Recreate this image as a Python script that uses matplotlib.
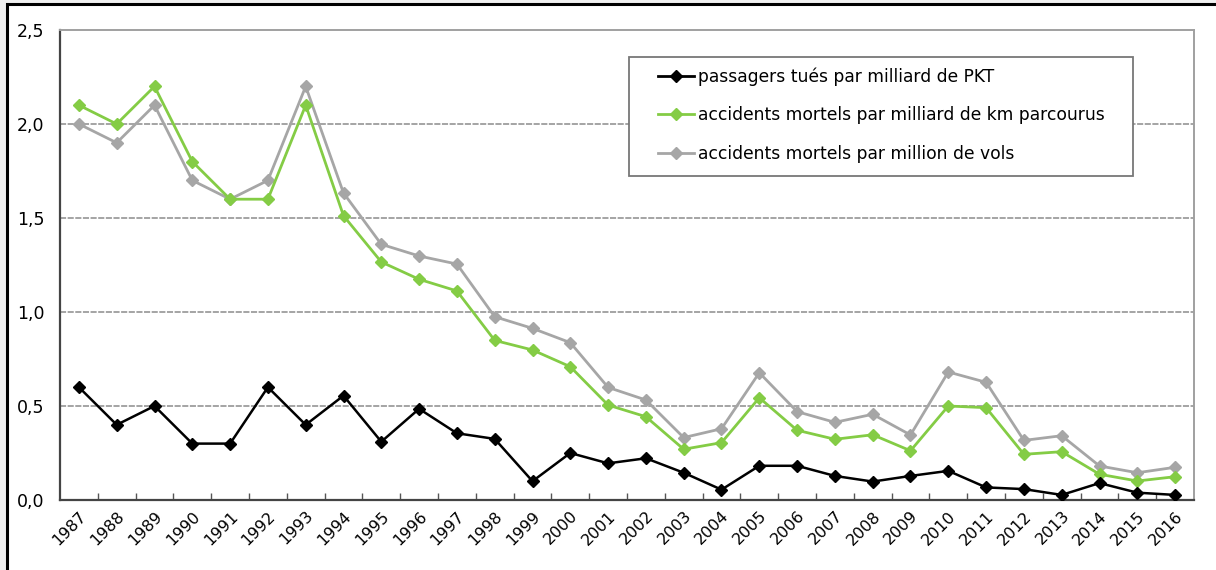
import matplotlib.pyplot as plt
from matplotlib.patches import Rectangle
from matplotlib.lines import Line2D

years = list(range(1987, 2017))

# passagers tués par milliard de PKT
pkt = [0.60, 0.40, 0.50, 0.30, 0.30, 0.60, 0.40, 0.555, 0.31, 0.485,
       0.355, 0.325, 0.10, 0.25, 0.195, 0.222, 0.145, 0.055, 0.182, 0.182,
       0.128, 0.098, 0.128, 0.155, 0.067, 0.058, 0.027, 0.09, 0.039, 0.027]

# accidents mortels par milliard de km parcourus
km = [2.10, 2.00, 2.20, 1.80, 1.60, 1.60, 2.10, 1.512, 1.266, 1.174,
      1.112, 0.849, 0.798, 0.709, 0.505, 0.443, 0.27, 0.305, 0.544, 0.371,
      0.323, 0.347, 0.262, 0.50, 0.491, 0.243, 0.257, 0.137, 0.101, 0.124]

# accidents mortels par million de vols
vols = [2.00, 1.90, 2.10, 1.70, 1.60, 1.70, 2.20, 1.633, 1.36, 1.298,
        1.255, 0.975, 0.913, 0.837, 0.599, 0.532, 0.332, 0.379, 0.677, 0.47,
        0.413, 0.456, 0.346, 0.681, 0.626, 0.317, 0.342, 0.181, 0.145, 0.174]

labels = ["passagers tués par milliard de PKT",
          "accidents mortels par milliard de km parcourus",
          "accidents mortels par million de vols"]
colors = ["#000000", "#84cc45", "#a6a6a6"]

plt.rcParams['font.family'] = ['DejaVu Sans']

W, H = 1216, 570
fig = plt.figure(figsize=(W / 100, H / 100), dpi=100)
fig.patch.set_facecolor('#f0f0f0')
# white frame with black border (only left/top visible)
fig.patches.append(Rectangle((7 / W, -0.05), 1.1, 1 - 4 / H + 0.05,
                             transform=fig.transFigure, facecolor='white',
                             edgecolor='black', linewidth=2.2, zorder=-5))

ax = fig.add_axes([60 / W, 1 - 500 / H, 1134 / W, 470 / H])
ax.set_facecolor('white')

x = list(range(len(years)))
ax.plot(x, vols, color=colors[2], lw=2, marker='D', ms=6.5, zorder=3)
ax.plot(x, km, color=colors[1], lw=2, marker='D', ms=6.5, zorder=4)
ax.plot(x, pkt, color=colors[0], lw=1.8, marker='D', ms=6.5, zorder=5)

ax.set_xlim(-0.5, len(years) - 0.5)
ax.set_ylim(0, 2.5)
ax.set_yticks([0, 0.5, 1.0, 1.5, 2.0, 2.5])
ax.set_yticklabels(["0,0", "0,5", "1,0", "1,5", "2,0", "2,5"], fontsize=12.5)
ax.tick_params(axis='y', length=0, pad=11)

for v in [0.5, 1.0, 1.5, 2.0]:
    ax.axhline(v, color='#8c8c8c', lw=1.1, ls=(0, (4, 1)), zorder=1)

ax.set_xticks([i + 0.5 for i in x[:-1]], minor=True)
ax.tick_params(axis='x', which='minor', direction='in', length=5, width=1, color='#555555')
ax.set_xticks(x)
ax.set_xticklabels([str(y) for y in years], rotation=45, ha='right',
                   rotation_mode='anchor', fontsize=11.5)
ax.tick_params(axis='x', which='major', length=0, pad=6)

for side in ['left', 'bottom']:
    ax.spines[side].set_color('#444444')
    ax.spines[side].set_linewidth(1.6)
for side in ['top', 'right']:
    ax.spines[side].set_color('#a0a0a0')
    ax.spines[side].set_linewidth(1.4)

# legend box drawn by hand (wide horizontal padding as in the original)
fig.patches.append(Rectangle((629 / W, 1 - 176 / H), (1133 - 629) / W, 119 / H,
                             transform=fig.transFigure, facecolor='white',
                             edgecolor='#777777', linewidth=1.3, zorder=5))
handles = [Line2D([0], [0], color=c, lw=2, marker='D', ms=6.5) for c in colors]
leg = fig.legend(handles, labels, loc='upper left',
                 bbox_to_anchor=(658 / W, 1 - 67 / H),
                 fontsize=12.3, frameon=False, handlelength=2.1,
                 handletextpad=0.25, labelspacing=1.22, borderpad=0,
                 borderaxespad=0)
leg.set_zorder(6)

fig.savefig('out.png', dpi=100, facecolor=fig.get_facecolor())
